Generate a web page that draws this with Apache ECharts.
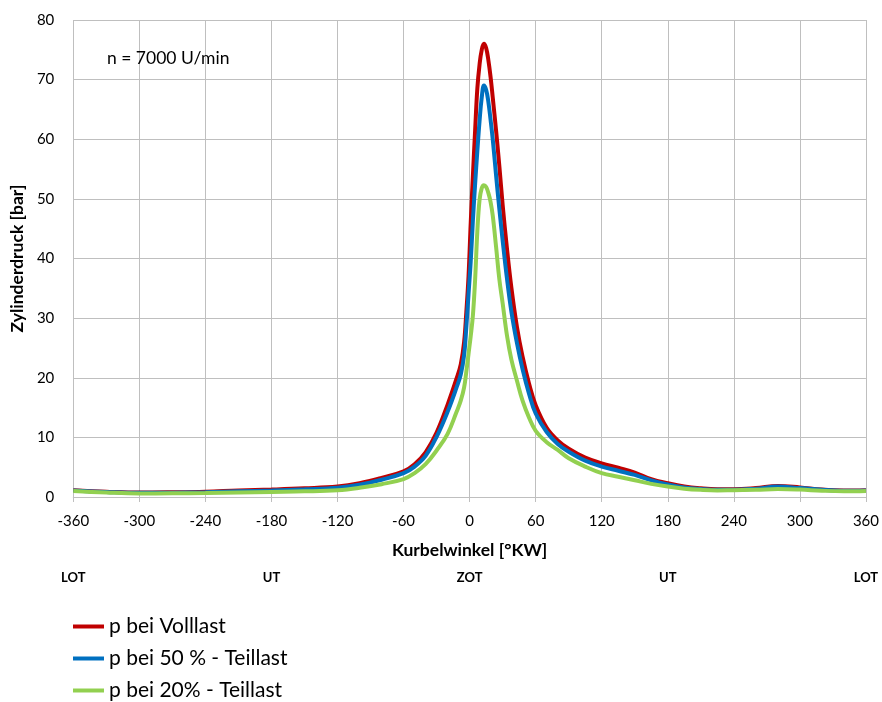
<!DOCTYPE html>
<html>
<head>
<meta charset="utf-8">
<script src="https://cdn.jsdelivr.net/npm/echarts@6/dist/echarts.min.js"></script>
<style>
html, body { margin: 0; padding: 0; background: #fff; }
#chart { width: 882px; height: 702px; }
</style>
</head>
<body>
<div id="chart"></div>
<script>
var angles = [-360, -330, -300, -270, -240, -210, -180, -150, -120, -100, -80, -60, -50, -40, -30, -20, -12, -8, -5, -3, -1, 1, 3, 5, 7, 9, 11, 13, 15, 17, 19, 21, 24, 27, 30, 34, 38, 43, 48, 54, 60, 70, 80, 90, 105, 120, 135, 150, 165, 180, 195, 210, 225, 240, 260, 280, 300, 320, 340, 360];

var vollast = [1.15, 0.9, 0.75, 0.8, 0.9, 1.1, 1.25, 1.45, 1.75, 2.3, 3.2, 4.3, 5.5, 7.5, 10.8, 15.5, 19.8, 22.3, 26, 31, 37, 46, 54, 61.5, 68.5, 72.5, 75, 76, 75.3, 73.3, 70.5, 67, 61.5, 55.5, 49, 41.5, 35, 28.5, 23.6, 19, 15.4, 11.6, 9.5, 8.1, 6.6, 5.65, 4.9, 4.1, 3.0, 2.3, 1.75, 1.45, 1.3, 1.3, 1.5, 1.85, 1.6, 1.25, 1.1, 1.15];

var teillast50 = [1.1, 0.85, 0.7, 0.72, 0.8, 0.95, 1.1, 1.3, 1.55, 2.05, 2.9, 4.0, 5.1, 6.9, 10.1, 14.3, 18.3, 20.6, 23.8, 28.5, 34, 39.5, 46.5, 52.5, 58, 63, 67, 69, 68.3, 66.3, 63.3, 60, 54, 48.3, 43, 36.5, 31, 25.8, 21.5, 17.3, 14, 10.9, 8.9, 7.6, 6.1, 5.1, 4.4, 3.7, 2.8, 2.1, 1.6, 1.35, 1.2, 1.2, 1.4, 1.75, 1.5, 1.2, 1.05, 1.1];

var teillast20 = [1.0, 0.75, 0.6, 0.62, 0.65, 0.75, 0.85, 0.95, 1.15, 1.55, 2.15, 3.0, 4.0, 5.5, 7.8, 10.6, 14.2, 16.2, 18.4, 21, 24, 27, 30.5, 36.5, 44.5, 49.8, 51.8, 52.3, 52, 51, 49.5, 47.2, 42, 36.5, 32.5, 27, 23, 19.5, 16.2, 13.3, 11.1, 9.2, 7.9, 6.5, 5.1, 4.0, 3.4, 2.8, 2.2, 1.75, 1.4, 1.2, 1.1, 1.15, 1.2, 1.35, 1.25, 1.05, 0.95, 1.0];

var seriesNames = ['p bei Volllast', 'p bei 50 % - Teillast', 'p bei 20% - Teillast'];
var seriesColors = ['#C00000', '#0070C0', '#92D050'];
var positionLabels = { '-360': 'LOT', '-180': 'UT', '0': 'ZOT', '180': 'UT', '360': 'LOT' };

function pairs(values) {
    return angles.map(function (a, i) { return [a, values[i]]; });
}

var font = 'Lato, "Open Sans", sans-serif';
var dom = document.getElementById('chart');
var myChart = echarts.init(dom);

var option = {
    animation: false,
    backgroundColor: '#fff',
    textStyle: { fontFamily: font },
    title: {
        text: 'n = 7000 U/min',
        left: 102,
        top: 44,
        textStyle: { fontFamily: font, fontSize: 17.5, fontWeight: 'normal', color: '#000' }
    },
    grid: { left: 71, right: 15, top: 20, bottom: 205 },
    legend: {
        orient: 'vertical',
        left: 73,
        top: 616,
        padding: 0,
        itemWidth: 31,
        itemHeight: 4,
        itemGap: 11,
        icon: 'rect',
        textStyle: { fontFamily: font, fontSize: 21, lineHeight: 21, color: '#000' },
        data: seriesNames
    },
    xAxis: [{
        type: 'value',
        min: -360,
        max: 360,
        interval: 60,
        name: 'Kurbelwinkel [°KW]',
        nameLocation: 'middle',
        nameGap: 44,
        nameTextStyle: { fontFamily: font, fontSize: 17.5, fontWeight: 'bold', color: '#000' },
        axisLine: { lineStyle: { color: '#bfbfbf' } },
        axisTick: { show: true, length: 5, lineStyle: { color: '#bfbfbf' } },
        axisLabel: { fontFamily: font, fontSize: 15, color: '#000', margin: 17 },
        splitLine: { show: true, lineStyle: { color: '#bfbfbf' } }
    }, {
        type: 'value',
        position: 'bottom',
        offset: 68,
        min: -360,
        max: 360,
        interval: 180,
        axisLine: { show: false },
        axisTick: { show: false },
        splitLine: { show: false },
        axisLabel: {
            fontFamily: font, fontSize: 13, fontWeight: 'bold', color: '#000', margin: 6,
            formatter: function (v) { return positionLabels[String(v)] || ''; }
        }
    }],
    yAxis: {
        type: 'value',
        min: 0,
        max: 80,
        interval: 10,
        name: 'Zylinderdruck [bar]',
        nameLocation: 'middle',
        nameGap: 42,
        nameTextStyle: { fontFamily: font, fontSize: 17.5, fontWeight: 'bold', color: '#000' },
        axisLine: { show: true, lineStyle: { color: '#bfbfbf' } },
        axisTick: { show: false },
        axisLabel: { fontFamily: font, fontSize: 15, color: '#000', margin: 19 },
        splitLine: { show: true, lineStyle: { color: '#bfbfbf' } }
    },
    series: [vollast, teillast50, teillast20].map(function (vals, i) {
        return {
            name: seriesNames[i],
            type: 'line',
            smooth: 0.4,
            showSymbol: false,
            symbol: 'none',
            data: pairs(vals),
            itemStyle: { color: seriesColors[i] },
            lineStyle: { color: seriesColors[i], width: 4 }
        };
    })
};

myChart.setOption(option, true);
</script>
</body>
</html>
